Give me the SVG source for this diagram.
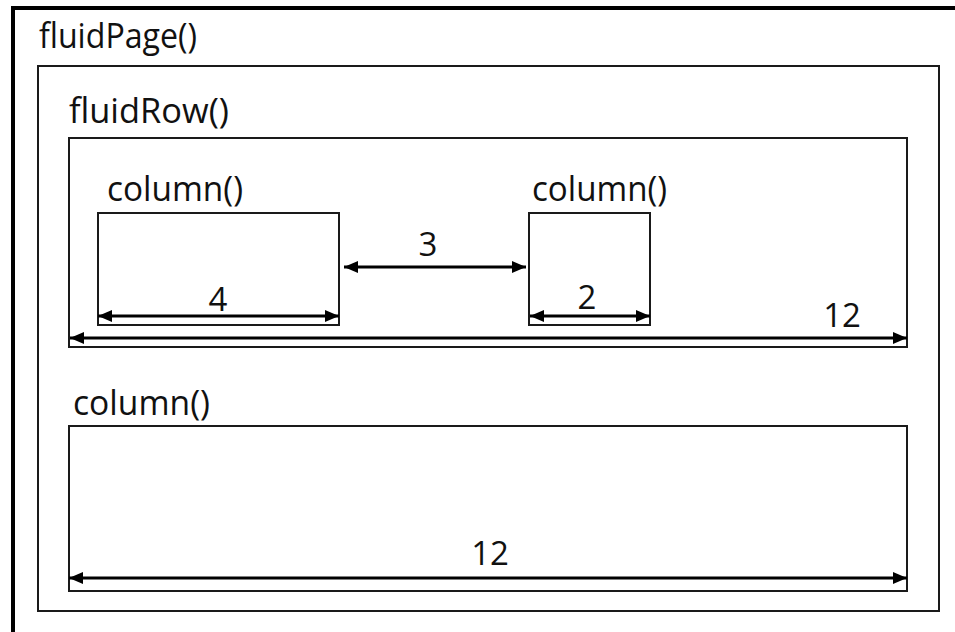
<svg xmlns="http://www.w3.org/2000/svg" width="955" height="632" viewBox="0 0 955 632">
  <defs>
    <style>
      .box { fill: none; stroke: #1a1a1a; stroke-width: 2; }
      .page { fill: none; stroke: #000; stroke-width: 4; }
      .lbl { font-family: "Open Sans", "Liberation Sans", sans-serif; font-size: 34px; fill: #111; }
      .num { font-family: "Open Sans", "Liberation Sans", sans-serif; font-size: 33px; fill: #111; text-anchor: middle; }
      .dim { stroke: #000; stroke-width: 3; fill: none; marker-start: url(#tail); marker-end: url(#head); }
    </style>
    <marker id="head" viewBox="0 0 14 12" refX="14" refY="6" markerWidth="14" markerHeight="12" markerUnits="userSpaceOnUse" orient="auto">
      <path d="M0,0 L14,6 L0,12 Z" fill="#000"/>
    </marker>
    <marker id="tail" viewBox="0 0 14 12" refX="0" refY="6" markerWidth="14" markerHeight="12" markerUnits="userSpaceOnUse" orient="auto">
      <path d="M14,0 L0,6 L14,12 Z" fill="#000"/>
    </marker>
  </defs>
  <rect width="955" height="632" fill="#fff"/>

  <g id="fluidPage">
    <rect class="page" x="13" y="8" width="960" height="640"/>
    <text class="lbl" x="39" y="48" textLength="158" lengthAdjust="spacingAndGlyphs">fluidPage()</text>
    <rect class="box" x="38" y="66" width="901" height="545"/>
  </g>

  <g id="fluidRow">
    <text class="lbl" x="69" y="123" textLength="160" lengthAdjust="spacingAndGlyphs">fluidRow()</text>
    <rect class="box" x="69" y="138" width="838" height="209"/>
  </g>

  <g id="column-4">
    <text class="lbl" x="107" y="201" textLength="136" lengthAdjust="spacingAndGlyphs">column()</text>
    <rect class="box" x="98" y="213" width="241" height="112"/>
    <text class="num" x="218" y="311">4</text>
  </g>

  <g id="column-2">
    <text class="lbl" x="532" y="201" textLength="135" lengthAdjust="spacingAndGlyphs">column()</text>
    <rect class="box" x="529" y="213" width="121" height="112"/>
    <text class="num" x="587" y="309">2</text>
  </g>

  <g id="column-12">
    <text class="lbl" x="73" y="415" textLength="137" lengthAdjust="spacingAndGlyphs">column()</text>
    <rect class="box" x="69" y="426" width="838" height="165"/>
    <text class="num" x="490" y="565">12</text>
  </g>

  <g id="offset-label">
    <text class="num" x="428" y="256">3</text>
    <text class="num" x="842" y="327">12</text>
  </g>

  <g id="connectors">
    <line class="dim" x1="98" y1="316" x2="339" y2="316"/>
    <line class="dim" x1="344" y1="267" x2="526" y2="267"/>
    <line class="dim" x1="530" y1="316" x2="650" y2="316"/>
    <line class="dim" x1="70" y1="338" x2="907" y2="338"/>
    <line class="dim" x1="69" y1="578" x2="907" y2="578"/>
  </g>
</svg>
